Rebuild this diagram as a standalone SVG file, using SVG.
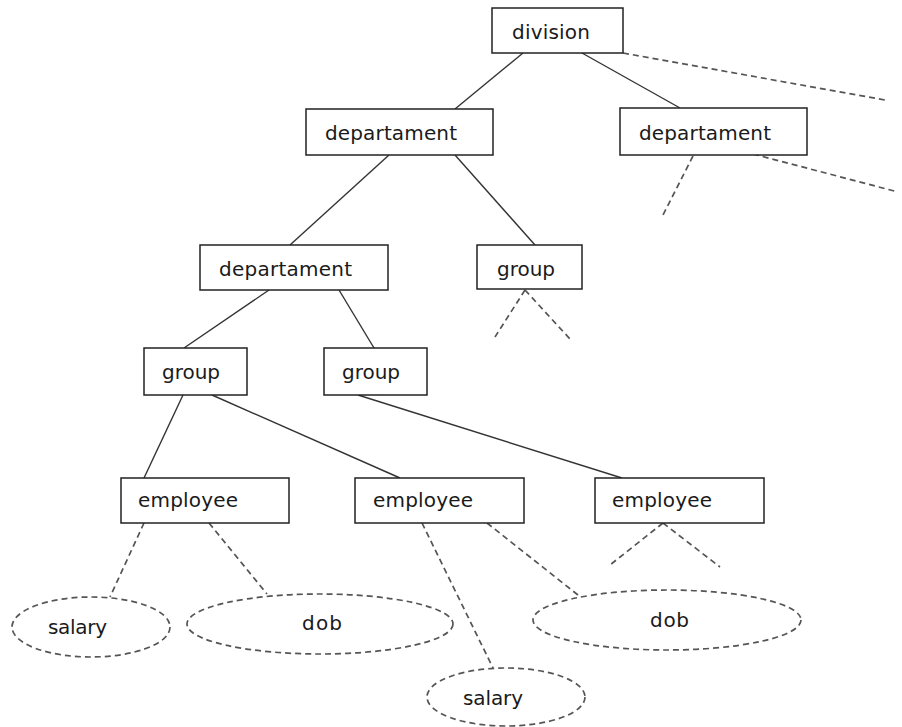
<svg xmlns="http://www.w3.org/2000/svg" width="902" height="727" viewBox="0 0 902 727">
  <style>
    .box { fill: #fff; stroke: #222; stroke-width: 1.5; }
    .attr { fill: #fff; stroke: #555; stroke-width: 1.7; stroke-dasharray: 6 4; }
    .edge { stroke: #333; stroke-width: 1.4; fill: none; }
    .dash { stroke: #555; stroke-width: 1.7; stroke-dasharray: 6 4; fill: none; }
    text { font-family: "DejaVu Sans", Verdana, sans-serif; font-size: 20px; fill: #1a1a1a; }
  </style>
  <rect width="902" height="727" fill="#fff"/>

  <!-- connectors -->
  <g id="connectors">
    <line class="edge" x1="523" y1="53" x2="455" y2="109"/>
    <line class="edge" x1="582" y1="53" x2="680" y2="108"/>
    <line class="dash" x1="623" y1="53" x2="885" y2="100"/>
    <line class="dash" x1="753" y1="154" x2="898" y2="192"/>
    <line class="dash" x1="693" y1="156" x2="663" y2="215"/>
    <line class="edge" x1="389" y1="155" x2="290" y2="245"/>
    <line class="edge" x1="455" y1="155" x2="535" y2="245"/>
    <line class="dash" x1="525" y1="290" x2="495" y2="337"/>
    <line class="dash" x1="525" y1="290" x2="570" y2="339"/>
    <line class="edge" x1="269" y1="290" x2="184" y2="348"/>
    <line class="edge" x1="339" y1="290" x2="374" y2="348"/>
    <line class="edge" x1="183" y1="395" x2="144" y2="478"/>
    <line class="edge" x1="212" y1="395" x2="400" y2="478"/>
    <line class="edge" x1="358" y1="395" x2="622" y2="478"/>
    <line class="dash" x1="144" y1="523" x2="110" y2="597"/>
    <line class="dash" x1="209" y1="523" x2="267" y2="594"/>
    <line class="dash" x1="422" y1="523" x2="493" y2="668"/>
    <line class="dash" x1="487" y1="523" x2="578" y2="595"/>
    <line class="dash" x1="663" y1="523" x2="610" y2="565"/>
    <line class="dash" x1="663" y1="523" x2="720" y2="567"/>
  </g>

  <g id="division">
    <rect class="box" x="492" y="8" width="131" height="45"/>
    <text x="512" y="39" textLength="78">division</text>
  </g>
  <g id="departament-a">
    <rect class="box" x="306" y="109" width="187" height="46"/>
    <text x="325" y="140" textLength="132">departament</text>
  </g>
  <g id="departament-b">
    <rect class="box" x="620" y="108" width="187" height="47"/>
    <text x="639" y="140" textLength="132">departament</text>
  </g>
  <g id="departament-c">
    <rect class="box" x="200" y="245" width="188" height="45"/>
    <text x="219" y="276" textLength="133">departament</text>
  </g>
  <g id="group-a">
    <rect class="box" x="477" y="245" width="105" height="44"/>
    <text x="497" y="276" textLength="58">group</text>
  </g>
  <g id="group-b">
    <rect class="box" x="144" y="348" width="103" height="47"/>
    <text x="162" y="379" textLength="58">group</text>
  </g>
  <g id="group-c">
    <rect class="box" x="324" y="348" width="103" height="47"/>
    <text x="342" y="379" textLength="58">group</text>
  </g>
  <g id="employee-a">
    <rect class="box" x="121" y="478" width="168" height="45"/>
    <text x="138" y="507" textLength="100">employee</text>
  </g>
  <g id="employee-b">
    <rect class="box" x="355" y="478" width="169" height="45"/>
    <text x="373" y="507" textLength="100">employee</text>
  </g>
  <g id="employee-c">
    <rect class="box" x="595" y="478" width="169" height="45"/>
    <text x="612" y="507" textLength="100">employee</text>
  </g>
  <g id="salary-a">
    <ellipse class="attr" cx="91" cy="627" rx="79" ry="30"/>
    <text x="48" y="634" textLength="59">salary</text>
  </g>
  <g id="dob-a">
    <ellipse class="attr" cx="320" cy="624" rx="133" ry="30"/>
    <text x="302" y="630" textLength="40">dob</text>
  </g>
  <g id="dob-b">
    <ellipse class="attr" cx="667" cy="620" rx="134" ry="30"/>
    <text x="650" y="627" textLength="39">dob</text>
  </g>
  <g id="salary-b">
    <ellipse class="attr" cx="506" cy="697" rx="79" ry="29"/>
    <text x="463" y="705" textLength="60">salary</text>
  </g>
</svg>
